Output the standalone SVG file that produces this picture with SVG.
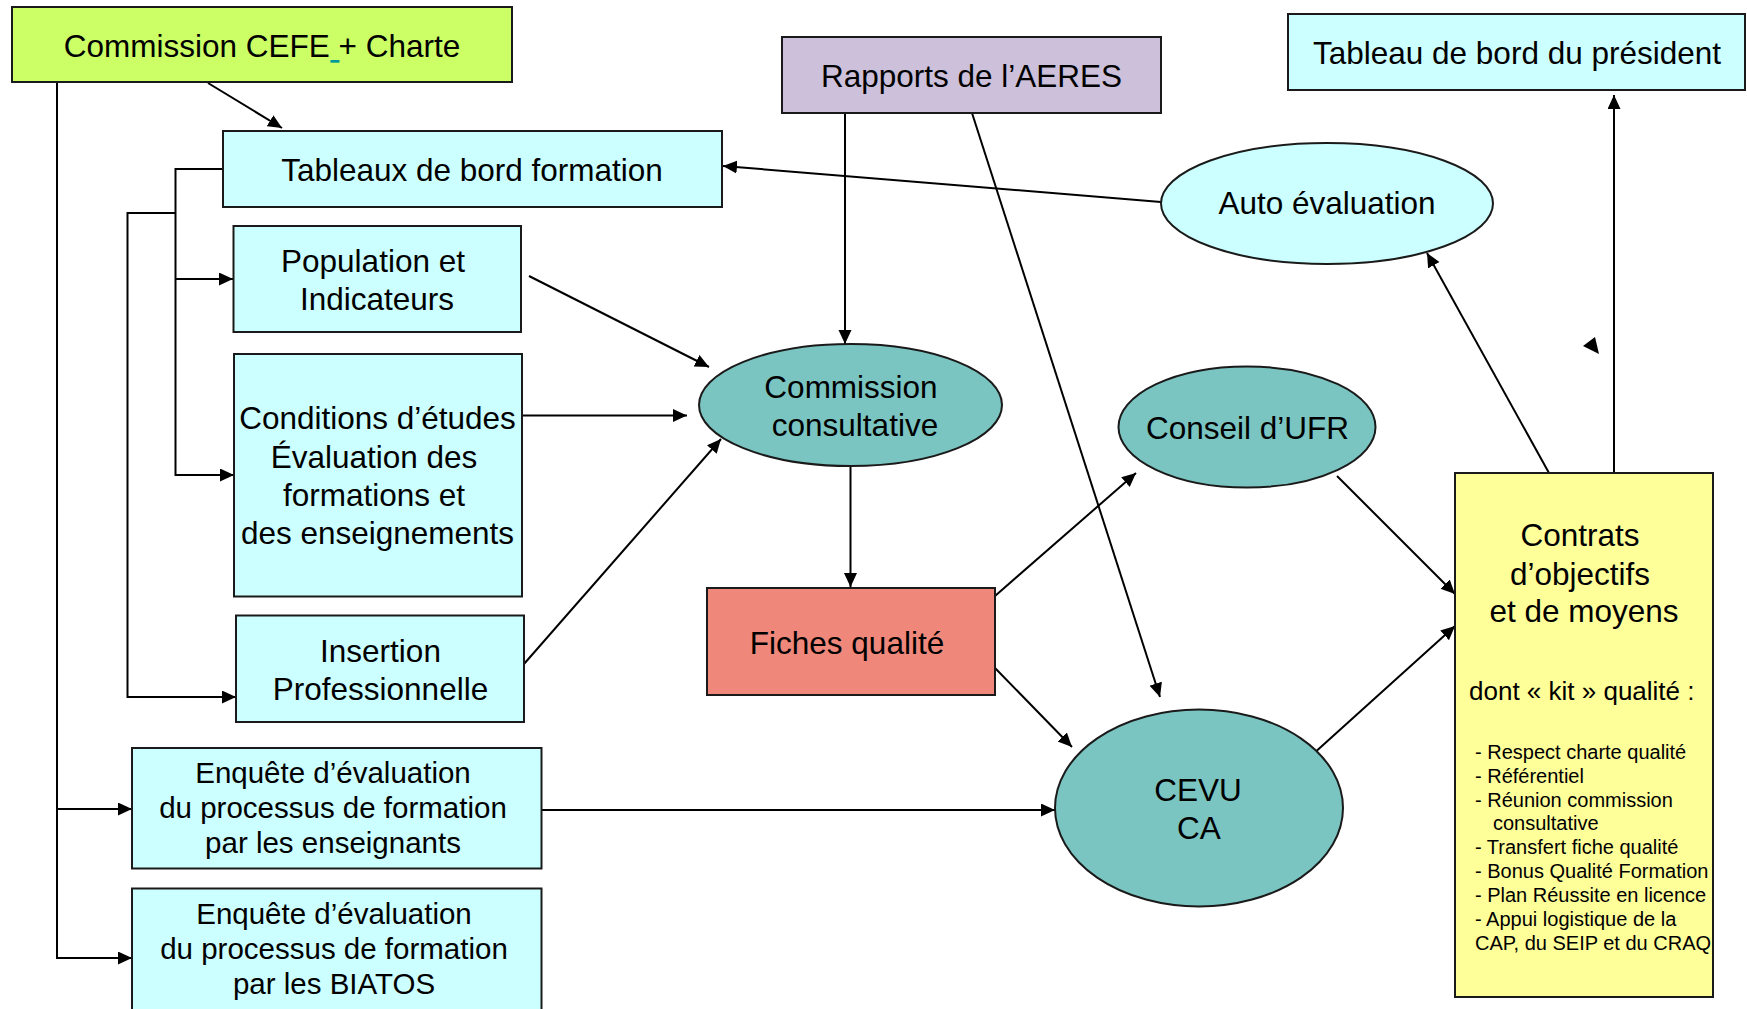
<svg xmlns="http://www.w3.org/2000/svg" width="1747" height="1009" viewBox="0 0 1747 1009">
<style>
  .box { stroke: #1a1a1a; stroke-width: 2; }
  .cyan { fill: #CCFFFF; }
  .teal { fill: #7AC5C1; }
  .lbl { font-family: "Liberation Sans", Arial, sans-serif; font-size: 31.5px; fill: #000; text-anchor: middle; }
  .enq { font-family: "Liberation Sans", Arial, sans-serif; font-size: 29.5px; fill: #000; text-anchor: middle; }
  .dont { font-family: "Liberation Sans", Arial, sans-serif; font-size: 26px; fill: #000; }
  .lst { font-family: "Liberation Sans", Arial, sans-serif; font-size: 20px; fill: #000; }
  .con { fill: none; stroke: #000; stroke-width: 2; marker-end: url(#arr); }
</style>
<defs>
  <marker id="arr" markerUnits="userSpaceOnUse" markerWidth="15" markerHeight="14" refX="14" refY="6.5" orient="auto">
    <path d="M0,0 L14,6.5 L0,13 z" fill="#000"/>
  </marker>
</defs>
<rect width="1747" height="1009" fill="#fff"/>

<g id="connectors">
  <path class="con" d="M208,83 L282,128"/>
  <path class="con" d="M57,82 V958 H132"/>
  <path class="con" d="M57,809 H132"/>
  <path class="con" d="M223,169 H175.5 V475 H234"/>
  <path class="con" d="M175.5,279 H233"/>
  <path class="con" d="M175.5,213 H127.5 V697 H236"/>
  <path class="con" d="M845,113 V344"/>
  <path class="con" d="M972,113 L1160,697"/>
  <path class="con" d="M1161,202 L723,166"/>
  <path class="con" d="M529,276 L709,367"/>
  <path class="con" d="M522,415.5 H687"/>
  <path class="con" d="M524,664 L721,439"/>
  <path class="con" d="M850.5,466 V587"/>
  <path class="con" d="M995,596 L1136,473"/>
  <path class="con" d="M995,668 L1072,747"/>
  <path class="con" d="M541.5,810 H1055"/>
  <path class="con" d="M1337,476 L1455,594"/>
  <path class="con" d="M1312,755 L1455,626"/>
  <path class="con" d="M1549,473 L1427,253"/>
  <path class="con" d="M1614,473 V95"/>
  <polygon points="1583,346 1595,337 1599,354" fill="#000"/>
</g>

<g id="cefe">
  <rect class="box" x="12" y="7" width="500" height="75" fill="#CCFF66"/>
  <text class="lbl" x="262" y="57">Commission CEFE + Charte</text>
  <rect x="330.5" y="60" width="9" height="2.7" fill="#009999"/>
</g>

<g id="tableaux">
  <rect class="box cyan" x="223" y="131" width="499" height="76"/>
  <text class="lbl" x="472" y="181">Tableaux de bord formation</text>
</g>

<g id="rapports">
  <rect class="box" x="782" y="37" width="379" height="76" fill="#CCC0DA"/>
  <text class="lbl" x="971.5" y="87">Rapports de l’AERES</text>
</g>

<g id="president">
  <rect class="box cyan" x="1288" y="14" width="457" height="76"/>
  <text class="lbl" x="1517" y="63.5">Tableau de bord du président</text>
</g>

<g id="auto">
  <ellipse class="box cyan" cx="1327" cy="203.5" rx="166" ry="60.5"/>
  <text class="lbl" x="1327" y="214">Auto évaluation</text>
</g>

<g id="population">
  <rect class="box cyan" x="233.5" y="226" width="287.5" height="106"/>
  <text class="lbl" x="373" y="272">Population et</text>
  <text class="lbl" x="377" y="309.5">Indicateurs</text>
</g>

<g id="conditions">
  <rect class="box cyan" x="234" y="354" width="288" height="242.5"/>
  <text class="lbl" x="377.5" y="428.5">Conditions d’études</text>
  <text class="lbl" x="374" y="467.5">Évaluation des</text>
  <text class="lbl" x="374" y="505.5">formations et</text>
  <text class="lbl" x="377.5" y="544">des enseignements</text>
</g>

<g id="insertion">
  <rect class="box cyan" x="236" y="615.5" width="288" height="106.5"/>
  <text class="lbl" x="380.5" y="662">Insertion</text>
  <text class="lbl" x="380.5" y="699.5">Professionnelle</text>
</g>

<g id="commission-consultative">
  <ellipse class="box teal" cx="850.5" cy="405" rx="151.5" ry="61"/>
  <text class="lbl" x="851" y="398">Commission</text>
  <text class="lbl" x="855" y="435.5">consultative</text>
</g>

<g id="conseil-ufr">
  <ellipse class="box teal" cx="1247" cy="427" rx="128.5" ry="60.5"/>
  <text class="lbl" x="1247.5" y="438.5">Conseil d’UFR</text>
</g>

<g id="fiches">
  <rect class="box" x="707" y="588" width="288" height="107" fill="#EF877A"/>
  <text class="lbl" x="847" y="654">Fiches qualité</text>
</g>

<g id="cevu">
  <ellipse class="box teal" cx="1199" cy="808" rx="144" ry="98.5"/>
  <text class="lbl" x="1198" y="801">CEVU</text>
  <text class="lbl" x="1199" y="839">CA</text>
</g>

<g id="enquete-enseignants">
  <rect class="box cyan" x="132" y="748" width="409.5" height="120.5"/>
  <text class="enq" x="333" y="783">Enquête d’évaluation</text>
  <text class="enq" x="333" y="818">du processus de formation</text>
  <text class="enq" x="333" y="853">par les enseignants</text>
</g>

<g id="enquete-biatos">
  <rect class="box cyan" x="132" y="888.5" width="409.5" height="130"/>
  <text class="enq" x="334" y="924">Enquête d’évaluation</text>
  <text class="enq" x="334" y="959">du processus de formation</text>
  <text class="enq" x="334" y="993.5">par les BIATOS</text>
</g>

<g id="contrats">
  <rect class="box" x="1455" y="473" width="258" height="524" fill="#FFFF99"/>
  <text class="lbl" x="1580" y="545.5">Contrats</text>
  <text class="lbl" x="1580" y="584.5">d’objectifs</text>
  <text class="lbl" x="1584" y="622">et de moyens</text>
  <text class="dont" x="1469" y="700">dont « kit » qualité :</text>
  <text class="lst" x="1475" y="759">- Respect charte qualité</text>
  <text class="lst" x="1475" y="782.5">- Référentiel</text>
  <text class="lst" x="1475" y="806.5">- Réunion commission</text>
  <text class="lst" x="1493" y="830">consultative</text>
  <text class="lst" x="1475" y="854">- Transfert fiche qualité</text>
  <text class="lst" x="1475" y="878">- Bonus Qualité Formation</text>
  <text class="lst" x="1475" y="901.5">- Plan Réussite en licence</text>
  <text class="lst" x="1475" y="925.5">- Appui logistique de la</text>
  <text class="lst" x="1475" y="950">CAP, du SEIP et du CRAQ</text>
</g>
</svg>
